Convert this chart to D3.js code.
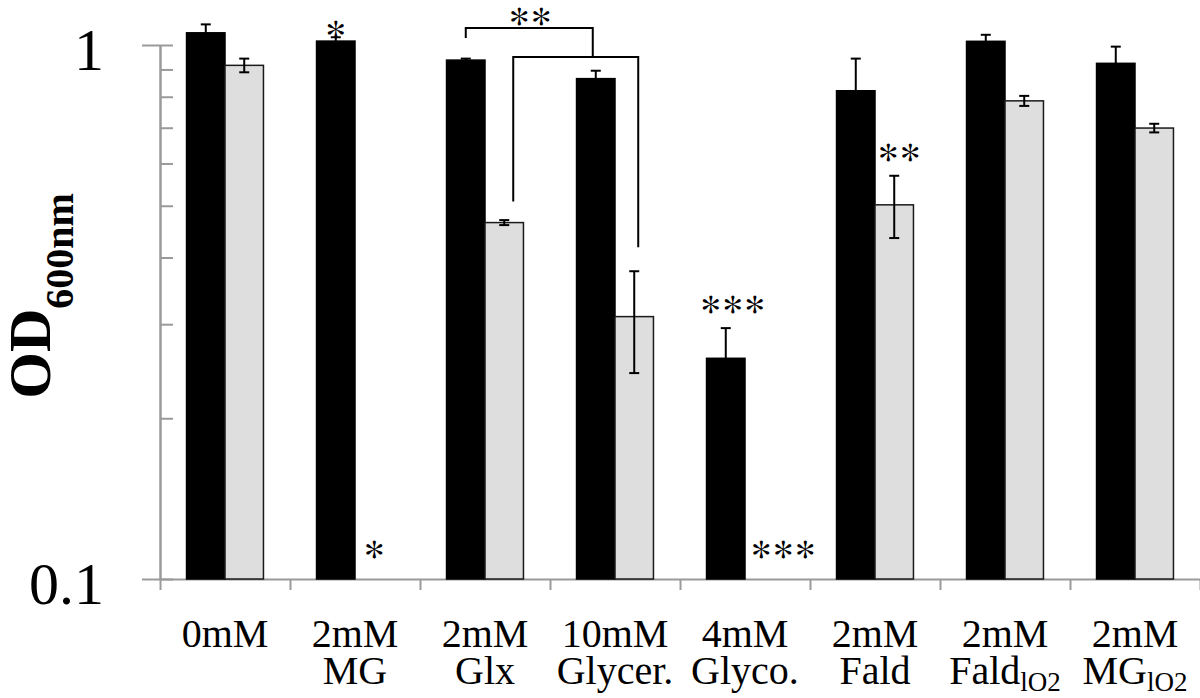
<!DOCTYPE html>
<html>
<head>
<meta charset="utf-8">
<script src="https://cdn.jsdelivr.net/npm/d3@7"></script>
<style>
  html, body { margin: 0; padding: 0; background: #fff; }
  svg { display: block; }
</style>
</head>
<body>
<svg id="chart" width="1200" height="698"></svg>
<script>
// ---- data ----
const categories = ["0mM", "2mM|MG", "2mM|Glx", "10mM|Glycer.", "4mM|Glyco.", "2mM|Fald", "2mM|Fald_lO2", "2mM|MG_lO2"];
const seriesNames = ["black", "gray"];
const blackValues = [1.054, 1.017, 0.937, 0.865, 0.259, 0.821, 1.016, 0.924];
const blackErrors = [0.039, 0.017, 0.006, 0.030, 0.036, 0.122, 0.029, 0.069];
const grayValues  = [0.916, null, 0.465, 0.310, null, 0.502, 0.786, 0.699];
const grayErrors  = [0.027, null, 0.005, 0.067, null, 0.067, 0.017, 0.013];
const yTickMajor = [0.1, 1];
const yTickLabels = ["0.1", "1"];
const yTickMinor = [0.2, 0.3, 0.4, 0.5, 0.6, 0.7, 0.8, 0.9];
// significance marks: [category index, series, text, placement]
const marks = [
  [1, "black", "*", "top"],
  [1, "gray", "*", "bottom"],
  [4, "black", "***", "top"],
  [4, "gray", "***", "bottom"],
  [5, "gray", "**", "top"]
];

const FONT = "Liberation Serif";
const STARFONT = "FreeSerif";
const svg = d3.select("#chart");
const mLeft = 160, mRight = 1200, mTop = 45, mBottom = 579;

const x = d3.scaleBand().domain(categories).range([mLeft, mRight]);
const xs = d3.scaleBand().domain(seriesNames).range([0, x.bandwidth()])
  .paddingInner(0).paddingOuter(0.69);
const y = d3.scaleLog().domain([0.1, 1]).range([mBottom, mTop]);

const axisColor = "#9a9a9a";

// plain text helper (no tspans)
function txt(parent, px, py, s, size, opts = {}) {
  return parent.append("text").attr("x", px).attr("y", py)
    .attr("font-size", size)
    .attr("text-anchor", opts.anchor || "start")
    .attr("font-weight", opts.weight || "normal")
    .attr("fill", "#000")
    .attr("font-family", opts.font || FONT)
    .style("font-family", opts.font || FONT)
    .text(s);
}

// ---- y axis ----
const yMinor = svg.append("g").attr("transform", `translate(${mLeft},0)`)
  .call(d3.axisRight(y).tickValues(yTickMajor.concat(yTickMinor)).tickSize(13).tickSizeOuter(0).tickFormat(""));
const yMajor = svg.append("g").attr("transform", `translate(${mLeft},0)`)
  .call(d3.axisLeft(y).tickValues(yTickMajor).tickSize(18).tickSizeOuter(0).tickPadding(38)
    .tickFormat(d => yTickLabels[yTickMajor.indexOf(d)]));
[yMinor, yMajor].forEach(g => {
  g.attr("font-family", null);
  g.selectAll("path, line").attr("stroke", axisColor).attr("stroke-width", 2);
});
yMajor.selectAll("text").attr("font-size", 60).attr("dy", "0.4em")
  .style("font-family", FONT).attr("fill", "#000");

// ---- x axis (category boundaries) ----
const xb = d3.scaleLinear().domain([0, categories.length]).range([mLeft, mRight]);
const xAxis = svg.append("g").attr("transform", `translate(0,${mBottom})`)
  .call(d3.axisBottom(xb).tickValues(d3.range(categories.length + 1)).tickSize(11).tickSizeOuter(0).tickFormat(""));
xAxis.selectAll("path, line").attr("stroke", axisColor).attr("stroke-width", 2);

// ---- bars ----
const rows = categories.map((c, i) => ({
  c,
  vals: [
    { s: "black", v: blackValues[i], e: blackErrors[i] },
    { s: "gray", v: grayValues[i], e: grayErrors[i] }
  ]
}));

const groups = svg.append("g").selectAll("g").data(rows).join("g")
  .attr("transform", d => `translate(${x(d.c)},0)`);

groups.selectAll("rect").data(d => d.vals.filter(v => v.v != null)).join("rect")
  .attr("x", d => xs(d.s))
  .attr("width", xs.bandwidth())
  .attr("y", d => y(d.v))
  .attr("height", d => y(0.1) - y(d.v))
  .attr("fill", d => d.s === "black" ? "#000" : "#dedede")
  .attr("stroke", d => d.s === "black" ? "#000" : "#1a1a1a")
  .attr("stroke-width", 1.5);

// error bars
const eb = groups.selectAll("g.err").data(d => d.vals.filter(v => v.v != null)).join("g")
  .attr("class", "err")
  .attr("transform", d => `translate(${xs(d.s) + xs.bandwidth() / 2},0)`)
  .attr("stroke", "#000").attr("stroke-width", 2);
eb.append("line").attr("y1", d => y(d.v + d.e)).attr("y2", d => y(d.v - d.e));
eb.append("line").attr("x1", -5).attr("x2", 5).attr("y1", d => y(d.v + d.e)).attr("y2", d => y(d.v + d.e));
eb.append("line").attr("x1", -5).attr("x2", 5).attr("y1", d => y(d.v - d.e)).attr("y2", d => y(d.v - d.e));

// ---- significance marks ----
const starSize = 44;
const starBase = 0.44;
const cx = (i, s) => x(categories[i]) + xs(s) + xs.bandwidth() / 2;
marks.forEach(([i, s, t, place]) => {
  const v = s === "black" ? blackValues[i] : grayValues[i];
  const e = s === "black" ? blackErrors[i] : grayErrors[i];
  let px = cx(i, s), py;
  if (place === "top") {
    py = y(v + e) - (t.length === 1 ? 7 : 22);
    px += t.length > 1 ? (s === "black" ? 7 : 5) : 0;
  } else {
    py = y(0.1) - 28;
    if (t.length > 1) px += 19;
  }
  txt(svg, px, py + starSize * starBase, t, starSize, { anchor: "middle", font: STARFONT });
});

// bracket between Glx and Glycer.
const iA = 2, iB = 3;
const b1L = cx(iA, "black"), b1R = cx(iB, "black") - 3;
const b2L = cx(iA, "gray") + 9, b2R = cx(iB, "gray") + 4;
const yb1 = 28, yb2 = 57;
const br = svg.append("g").attr("fill", "none").attr("stroke", "#000").attr("stroke-width", 2);
br.append("path").attr("d", `M${b1L},${yb1 + 10}V${yb1}H${b1R}V${yb2}`);
br.append("path").attr("d", `M${b2L},${y(grayValues[iA]) - 21}V${yb2}H${b2R}V${y(grayValues[iB] + grayErrors[iB]) - 24}`);
txt(svg, (b1L + b1R) / 2 + 1, 18 + starSize * starBase, "**", starSize, { anchor: "middle", font: STARFONT });

// ---- x labels ----
const labSize = 40, subSize = 27;
const line1Y = 647, line2Y = 684, subDy = 7;
const labG = svg.append("g");
categories.forEach(c => {
  const mid = x(c) + x.bandwidth() / 2;
  const lines = c.split("|");
  txt(labG, mid, line1Y, lines[0], labSize, { anchor: "middle" });
  if (lines[1]) {
    const parts = lines[1].split("_");
    if (parts.length > 1) {
      const a = txt(labG, 0, line2Y, parts[0], labSize);
      const b = txt(labG, 0, line2Y + subDy, parts[1], subSize);
      const wa = a.node().getComputedTextLength();
      const wb = b.node().getComputedTextLength();
      const x0 = mid - (wa + wb) / 2;
      a.attr("x", x0);
      b.attr("x", x0 + wa);
    } else {
      txt(labG, mid, line2Y, lines[1], labSize, { anchor: "middle" });
    }
  }
});

// ---- y title ----
const ytG = svg.append("g").attr("transform", "translate(50,296) rotate(-90)");
const t1 = txt(ytG, 0, 0, "OD", 60, { weight: "bold" });
const t2 = txt(ytG, 0, 23, "600nm", 40, { weight: "bold" });
const w1 = t1.node().getComputedTextLength(), w2 = t2.node().getComputedTextLength();
t1.attr("x", -(w1 + w2) / 2);
t2.attr("x", -(w1 + w2) / 2 + w1);
</script>
</body>
</html>
